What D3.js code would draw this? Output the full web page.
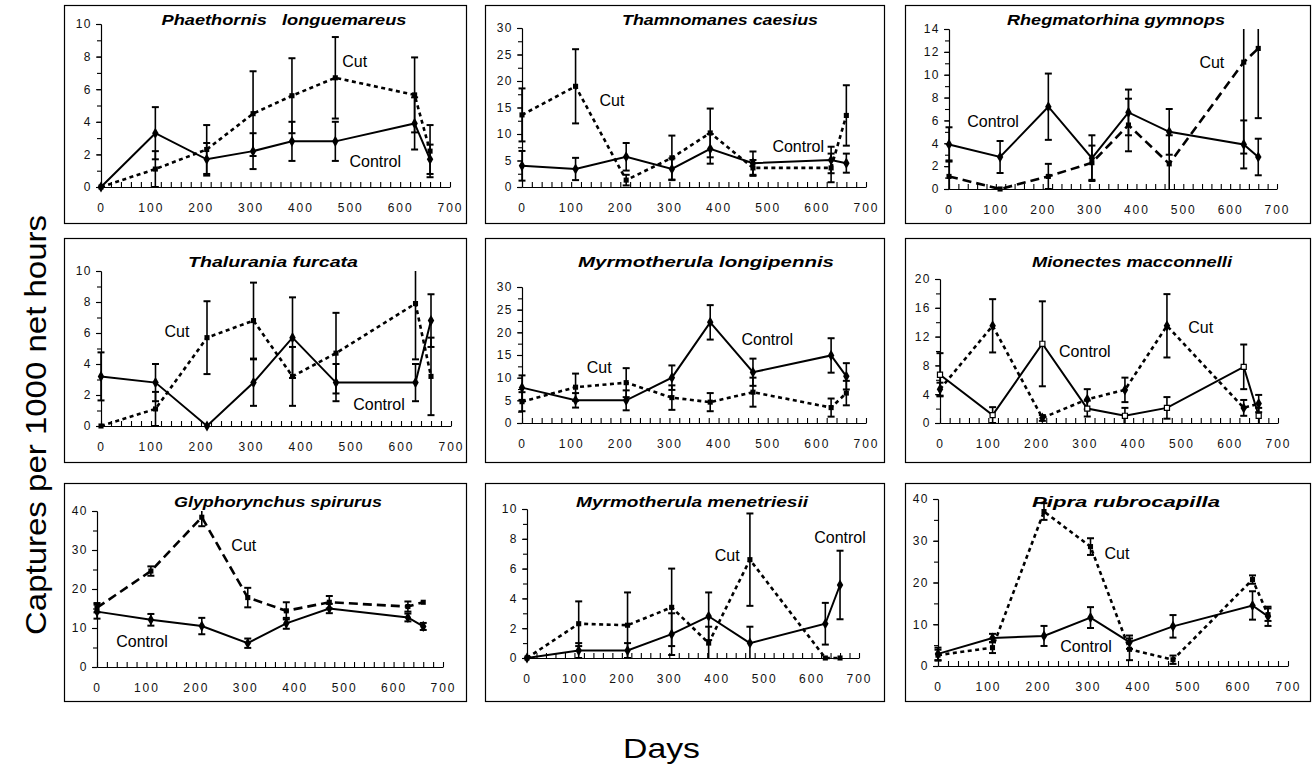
<!DOCTYPE html>
<html>
<head>
<meta charset="utf-8">
<script src="https://cdn.jsdelivr.net/npm/d3@7"></script>
<style>
  body { margin: 0; background: #fff; }
  svg { display: block; }
  text { font-family: Arial, "Liberation Sans", sans-serif; }
</style>
</head>
<body>
<div id="chart"></div>
<script>
// sampling days (x) shared by all panels
var days = [0, 109, 212, 305, 383, 470, 629, 660];
var x_ticks = [0, 100, 200, 300, 400, 500, 600, 700];

var species = ["Phaethornis   longuemareus", "Thamnomanes caesius", "Rhegmatorhina gymnops",
  "Thalurania furcata", "Myrmotherula longipennis", "Mionectes macconnelli",
  "Glyphorynchus spirurus", "Myrmotherula menetriesii", "Pipra rubrocapilla"];

var y_max = [10, 30, 14, 10, 30, 20, 40, 10, 40];
var y_step = [2, 5, 2, 2, 5, 4, 10, 2, 10];

var control_mean = [
  [0, 3.3, 1.7, 2.2, 2.8, 2.8, 3.9, 1.7],
  [4.0, 3.4, 5.7, 3.4, 7.2, 4.5, 5.1, 4.5],
  [3.9, 2.8, 7.2, 2.7, 6.7, 5.0, 3.9, 2.8],
  [3.2, 2.8, 0, 2.8, 5.7, 2.8, 2.8, 6.8],
  [7.8, 5.0, 5.0, 10.0, 22.2, 11.2, 14.9, 10.3],
  [6.7, 1.1, 11.0, 2.0, 1.0, 2.1, 7.8, 1.0],
  [14.2, 12.1, 10.5, 6.1, 11.2, 15.0, 12.7, 10.4],
  [0, 0.5, 0.5, 1.6, 2.8, 1.0, 2.3, 4.9],
  [2.9, 6.7, 7.2, 11.6, 5.7, 9.5, 14.5, 11.9]
];
var control_err = [
  [0, 1.6, 1.0, 1.1, 1.2, 1.2, 1.6, 0.9],
  [2.8, 2.1, 2.6, 2.0, 2.8, 2.2, 2.5, 1.8],
  [1.5, 1.4, 2.9, 2.0, 2.0, 2.0, 2.1, 1.6],
  [1.55, 1.2, 0, 1.5, 2.6, 1.2, 1.2, 1.7],
  [2.7, 1.6, 2.2, 2.7, 3.8, 3.0, 3.8, 2.9],
  [3.0, 1.1, 5.9, 1.1, 1.1, 1.5, 3.1, 1.1],
  [1.8, 1.5, 2.1, 1.2, 1.4, 1.2, 1.0, 0.9],
  [0, 0.5, 0.5, 1.4, 1.6, 1.1, 1.4, 2.3],
  [1.5, 1.0, 2.4, 2.5, 1.6, 2.7, 3.4, 2.3]
];
var cut_mean = [
  [0, 1.1, 2.3, 4.5, 5.6, 6.7, 5.65, 2.2],
  [13.6, 19.0, 1.3, 5.5, 10.2, 3.6, 3.6, 13.5],
  [1.1, 0, 1.1, 2.3, 5.6, 2.2, 11.1, 12.3],
  [0, 1.1, 5.7, 6.8, 3.2, 4.7, 7.9, 3.2],
  [4.7, 7.9, 8.9, 5.6, 4.6, 6.8, 3.4, 6.6],
  [4.7, 13.5, 0.7, 3.3, 4.6, 13.5, 2.1, 2.7],
  [15.2, 24.6, 38.4, 17.8, 14.4, 16.6, 15.5, 16.6],
  [0, 2.3, 2.2, 3.4, 1.0, 6.6, 0, 0],
  [2.6, 4.4, 37.0, 28.6, 4.0, 1.5, 20.7, 12.3]
];
var cut_err = [
  [0, 1.1, 1.5, 2.6, 2.3, 2.5, 2.3, 1.6],
  [5.0, 7.0, 1.0, 4.2, 4.6, 1.5, 2.7, 5.7],
  [1.4, 0, 1.1, 1.5, 2.3, 2.5, 8.0, 6.1],
  [0, 1.1, 2.35, 2.45, 1.9, 2.6, 3.6, 2.5],
  [2.1, 3.0, 3.2, 2.7, 2.0, 3.2, 2.0, 2.7],
  [0.9, 3.7, 0.4, 1.4, 1.7, 4.4, 1.1, 1.2],
  [1.2, 1.2, 2.3, 2.5, 2.2, 1.6, 1.3, 0],
  [0, 1.5, 2.2, 2.6, 1.1, 3.1, 0, 0],
  [1.3, 1.3, 2.0, 2.0, 2.6, 1.0, 1.0, 1.5]
];
var cut_dash = ["short", "short", "long", "short", "short", "short", "long", "short", "short"];

// where the "Cut" / "Control" words sit, in [day, value]
var cut_label = [[509, 7.7], [183, 16.4], [561, 11.1], [152, 6.1], [157, 12.4],
  [540, 13.3], [297, 31.3], [422, 6.9], [358, 27.1]];
var control_label = [[550, 1.6], [562, 7.7], [94, 5.95], [556, 1.4], [499, 18.5],
  [300, 10.0], [91, 6.7], [660, 8.1], [296, 4.8]];

// layout
var width = 1314, height = 770;
var box_x = [64, 485, 905], box_w = [402, 399, 405];
var box_y = [5, 238, 483], box_h = [218, 224, 218];
// [x of day 0, x of day 700, y of max, y of 0]
var plot_area = [
  [101, 450, 24, 187], [522, 866, 28, 187], [949, 1277, 29, 189],
  [101, 451, 271, 426], [522, 866, 287, 423], [940, 1278, 279, 423],
  [97, 443, 511, 667], [527, 859, 509, 658], [938, 1288, 499, 666]
];
// title centre x, centre y, width
var title_pos = [
  [284, 20, 245], [720, 20, 196], [1116, 20, 218],
  [273, 262, 170], [706, 262, 256], [1132, 262, 200],
  [278, 502, 208], [692, 502, 232], [1126, 502, 188]
];

var font = "Arial, 'Liberation Sans', sans-serif";
var color_text = "#111";

var svg = d3.select("#chart").append("svg")
  .attr("width", width)
  .attr("height", height);

species.forEach(function(name, i) {
  var col = i % 3, row = Math.floor(i / 3);
  var p = plot_area[i];
  var g = svg.append("g");

  g.append("rect")
    .attr("x", box_x[col] + 0.5)
    .attr("y", box_y[row] + 0.5)
    .attr("width", box_w[col])
    .attr("height", box_h[row])
    .style("fill", "none")
    .style("stroke", "#000")
    .style("stroke-width", 1.2);

  var x = d3.scaleLinear().domain([0, 700]).range([p[0], p[1]]);
  var y = d3.scaleLinear().domain([0, y_max[i]]).range([p[3], p[2]]);

  //y axis, minor then major
  g.append("g")
    .attr("transform", "translate(" + p[0] + ",0)")
    .call(d3.axisLeft(y).tickValues(d3.range(0, y_max[i] + 0.001, y_step[i] / 2))
      .tickSize(4).tickSizeOuter(0).tickFormat(""));
  var ya = g.append("g")
    .attr("transform", "translate(" + p[0] + ",0)")
    .call(d3.axisLeft(y).tickValues(d3.range(0, y_max[i] + 0.001, y_step[i]))
      .tickSize(5).tickSizeOuter(0).tickPadding(4));
  ya.selectAll("text")
    .style("font-family", font)
    .style("font-size", "12px")
    .style("letter-spacing", "1.5px")
    .style("fill", color_text);

  //x axis: small ticks pointing up, labels below
  g.append("g")
    .attr("transform", "translate(0," + p[3] + ")")
    .call(d3.axisBottom(x).tickValues(d3.range(0, 701, 20))
      .tickSizeInner(-5).tickSizeOuter(0).tickFormat(""));
  var xa = g.append("g")
    .attr("transform", "translate(0," + p[3] + ")")
    .call(d3.axisBottom(x).tickValues(x_ticks).tickSize(0).tickPadding(16));
  xa.select(".domain").remove();
  xa.selectAll("text")
    .style("font-family", font)
    .style("font-size", "12px")
    .style("letter-spacing", "2px")
    .style("fill", color_text);

  g.selectAll(".domain, .tick line").style("stroke", "#000").style("stroke-width", 1.1);

  //title
  g.append("text")
    .attr("x", title_pos[i][0] - title_pos[i][2] / 2)
    .attr("y", title_pos[i][1] + 5)
    .attr("textLength", title_pos[i][2])
    .attr("lengthAdjust", "spacingAndGlyphs")
    .style("white-space", "pre")
    .style("font-family", font)
    .style("font-size", "15px")
    .style("font-weight", "bold")
    .style("font-style", "italic")
    .text(name);

  var series = [
    {mean: control_mean[i], err: control_err[i]},
    {mean: cut_mean[i], err: cut_err[i]}
  ];

  //error bars
  series.forEach(function(s) {
    s.mean.forEach(function(m, j) {
      var e = s.err[j];
      if (e <= 0) return;
      var lo = Math.max(0, m - e), hi = Math.min(y_max[i], m + e);
      var cx = x(days[j]);
      g.append("line")
        .attr("x1", cx).attr("x2", cx)
        .attr("y1", y(lo)).attr("y2", y(hi))
        .style("stroke", "#000").style("stroke-width", 1.6);
      [[lo, m - e >= 0], [hi, m + e <= y_max[i]]].forEach(function(c) {
        if (!c[1]) return;
        g.append("line")
          .attr("x1", cx - 3.5).attr("x2", cx + 3.5)
          .attr("y1", y(c[0])).attr("y2", y(c[0]))
          .style("stroke", "#000").style("stroke-width", 2);
      });
    });
  });

  //lines
  var line = d3.line()
    .x(function(d, j) { return x(days[j]); })
    .y(function(d) { return y(d); });

  g.append("path")
    .datum(cut_mean[i])
    .attr("d", line)
    .style("fill", "none")
    .style("stroke", "#000")
    .style("stroke-width", 2.6)
    .style("stroke-dasharray", cut_dash[i] == "long" ? "9,5" : "4,3.5");

  g.append("path")
    .datum(control_mean[i])
    .attr("d", line)
    .style("fill", "none")
    .style("stroke", "#000")
    .style("stroke-width", 2);

  //markers
  var open = (i == 5);
  g.selectAll(".cutpt").data(cut_mean[i]).enter().append("path")
    .attr("transform", function(d, j) { return "translate(" + x(days[j]) + "," + y(d) + ")"; })
    .attr("d", d3.symbol(open ? d3.symbolDiamond : d3.symbolSquare).size(open ? 36 : 26))
    .style("fill", "#000");

  g.selectAll(".ctlpt").data(control_mean[i]).enter().append("path")
    .attr("transform", function(d, j) { return "translate(" + x(days[j]) + "," + y(d) + ")"; })
    .attr("d", d3.symbol(open ? d3.symbolSquare : d3.symbolDiamond).size(open ? 26 : 36))
    .style("fill", open ? "#fff" : "#000")
    .style("stroke", "#000")
    .style("stroke-width", open ? 1.2 : 0);

  //labels
  g.append("text")
    .attr("x", x(cut_label[i][0]))
    .attr("y", y(cut_label[i][1]))
    .attr("dy", "0.36em")
    .style("text-anchor", "middle")
    .style("font-family", font)
    .style("font-size", "16px")
    .text("Cut");

  g.append("text")
    .attr("x", x(control_label[i][0]))
    .attr("y", y(control_label[i][1]))
    .attr("dy", "0.36em")
    .style("text-anchor", "middle")
    .style("font-family", font)
    .style("font-size", "16px")
    .text("Control");
});

//axis titles
svg.append("text")
  .attr("transform", "translate(46,425) rotate(-90)")
  .attr("x", -210)
  .attr("textLength", 420)
  .attr("lengthAdjust", "spacingAndGlyphs")
  .style("font-family", font)
  .style("font-size", "29px")
  .text("Captures per 1000 net hours");

svg.append("text")
  .attr("x", 623)
  .attr("y", 758)
  .attr("textLength", 77)
  .attr("lengthAdjust", "spacingAndGlyphs")
  .style("font-family", font)
  .style("font-size", "28px")
  .text("Days");
</script>
</body>
</html>
